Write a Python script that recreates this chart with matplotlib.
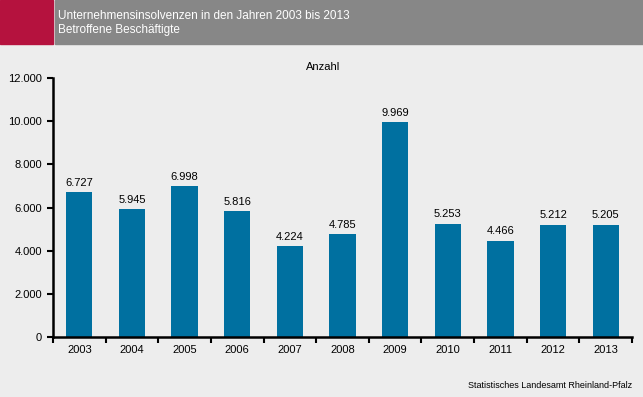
import matplotlib.pyplot as plt
from matplotlib.patches import Rectangle

plt.rcParams['font.family'] = ['Liberation Sans', 'DejaVu Sans']

# Data
years = ['2003', '2004', '2005', '2006', '2007', '2008', '2009', '2010', '2011', '2012', '2013']
employees = [6727, 5945, 6998, 5816, 4224, 4785, 9969, 5253, 4466, 5212, 5205]
y_ticks = [0, 2000, 4000, 6000, 8000, 10000, 12000]


def de_format(v):
    return f'{v:,.0f}'.replace(',', '.')


bg = '#ededed'
fig = plt.figure(figsize=(6.43, 3.97), dpi=100, facecolor=bg)

# header band
fig.patches.append(Rectangle((0, 1 - 44 / 397), 53 / 643, 44 / 397,
                             transform=fig.transFigure, color='#b5123e', zorder=0))
fig.patches.append(Rectangle((55 / 643, 1 - 44 / 397), 1 - 55 / 643, 44 / 397,
                             transform=fig.transFigure, color='#878787', zorder=0))
fig.text(58 / 643, 1 - 16 / 397, 'Unternehmensinsolvenzen in den Jahren 2003 bis 2013',
         color='white', fontsize=8.5, va='center', ha='left')
fig.text(58 / 643, 1 - 30 / 397, 'Betroffene Beschäftigte',
         color='white', fontsize=8.5, va='center', ha='left')

ax = fig.add_axes([53 / 643, 60 / 397, 579 / 643, 259 / 397])
ax.set_facecolor(bg)

x = range(len(years))
bars = ax.bar(x, employees, width=0.5, color='#0070a0')
for xi, v in zip(x, employees):
    ax.annotate(de_format(v), (xi, v), xytext=(0, 3), textcoords='offset points',
                ha='center', va='bottom', fontsize=8)

ax.set_xlim(-0.5, len(years) - 0.5)
ax.set_ylim(0, 12000)
ax.set_yticks(y_ticks)
ax.set_yticklabels([de_format(t) for t in y_ticks], fontsize=8)
ax.set_xticks(list(x))
ax.set_xticklabels(years, fontsize=8)
ax.tick_params(axis='x', length=0, pad=6)
ax.set_xticks([i + 0.5 for i in range(-1, len(years))], minor=True)
ax.tick_params(axis='x', which='minor', length=4, width=1.5, direction='out')
ax.tick_params(axis='y', length=4, width=1.5, direction='out', pad=4)

for s in ['top', 'right']:
    ax.spines[s].set_visible(False)
for s in ['left', 'bottom']:
    ax.spines[s].set_linewidth(1.8)

fig.text(323 / 643, 1 - 67 / 397, 'Anzahl', ha='center', va='center', fontsize=8)
fig.text(632 / 643, 1 - 385 / 397, 'Statistisches Landesamt Rheinland-Pfalz',
         ha='right', va='center', fontsize=6.5)

fig.savefig('out.png', dpi=100, facecolor=bg)
